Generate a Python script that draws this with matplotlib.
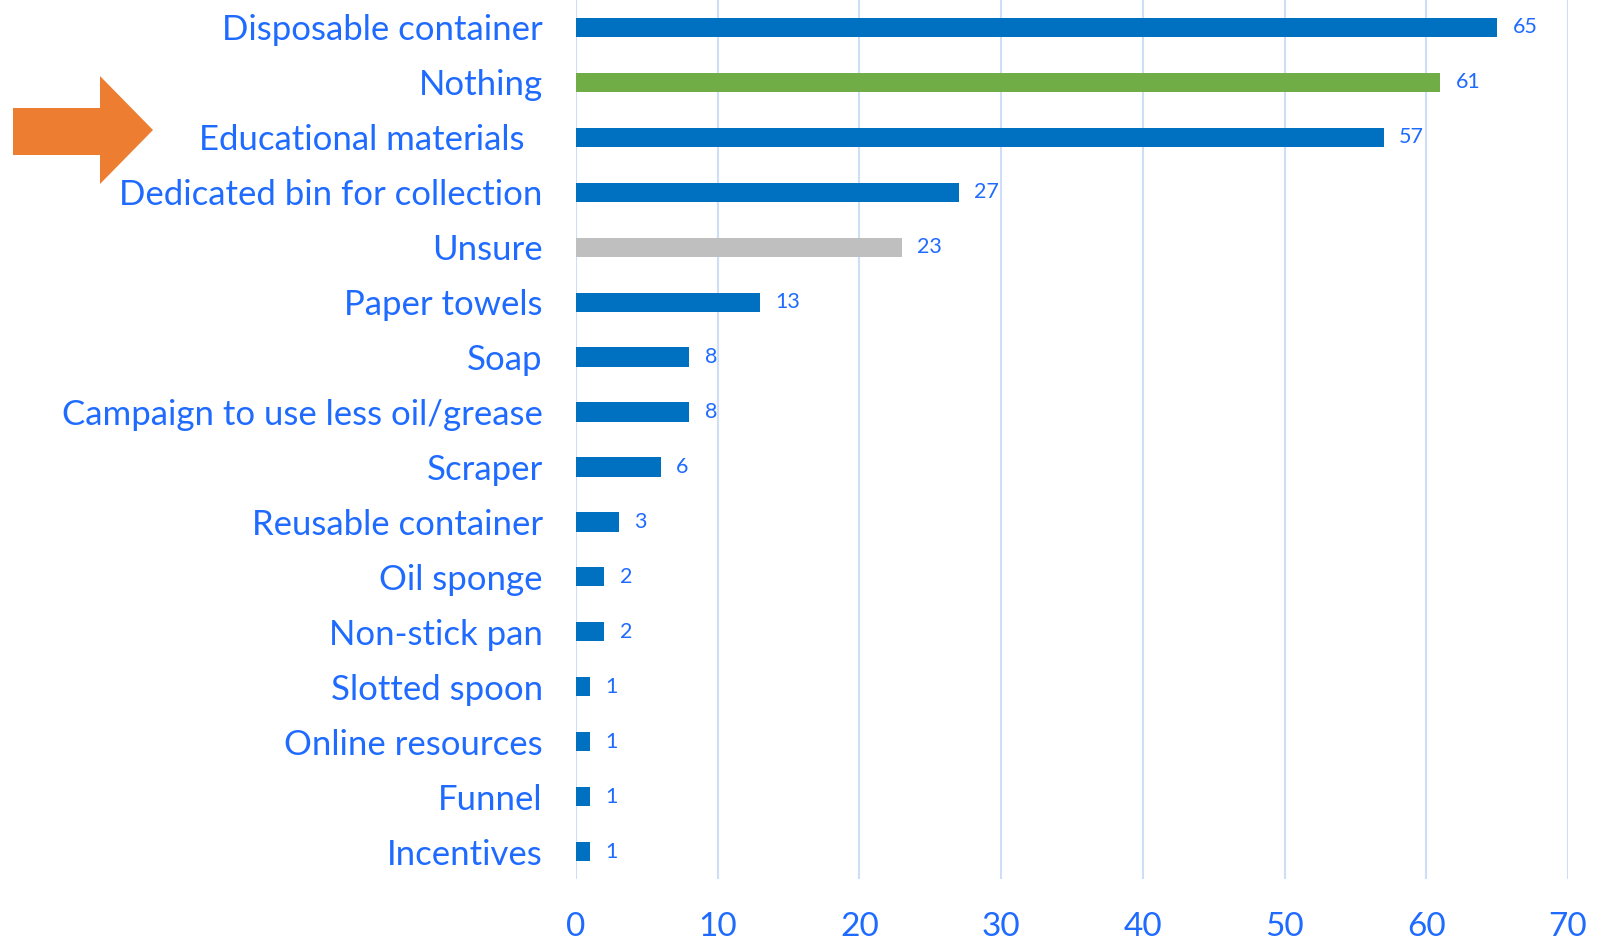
import matplotlib
matplotlib.use("Agg")
import matplotlib.pyplot as plt
from matplotlib.patches import Polygon

categories = ["Disposable container", "Nothing", "Educational materials  ",
              "Dedicated bin for collection", "Unsure", "Paper towels", "Soap",
              "Campaign to use less oil/grease", "Scraper", "Reusable container",
              "Oil sponge", "Non-stick pan", "Slotted spoon", "Online resources",
              "Funnel", "Incentives"]
values = [65, 61, 57, 27, 23, 13, 8, 8, 6, 3, 2, 2, 1, 1, 1, 1]
colors = ["#0070C0", "#70AD47", "#0070C0", "#0070C0", "#BFBFBF"] + ["#0070C0"] * 11
xticks = [0, 10, 20, 30, 40, 50, 60, 70]

txt = "#1F6BFF"
plt.rcParams['font.family'] = ['Lato', 'DejaVu Sans']

fig = plt.figure(figsize=(16.13, 9.4), dpi=100)
ax = fig.add_axes([576/1613, 1 - 879/940, (1568 - 576)/1613, 879/940])

y = list(range(len(categories)))
bars = ax.barh(y, values, height=0.35, color=colors, zorder=3)
for yi, v in zip(y, values):
    ax.annotate(str(v), (v, yi), xytext=(11, 0), textcoords="offset points",
                va="center", ha="left", fontsize=15.5, color=txt)

ax.set_ylim(15.5, -0.5)
ax.set_xlim(0, 70)
ax.set_xticks(xticks)
ax.set_yticks(y)
ax.set_yticklabels(categories, fontsize=25, color=txt)
ax.set_xticklabels([str(t) for t in xticks], fontsize=24, color=txt)
ax.tick_params(axis='y', length=0, pad=24)
ax.tick_params(axis='x', length=0, pad=24)
ax.grid(axis='x', color="#CFDEF7", linewidth=1.5, zorder=0)
for s in ax.spines.values():
    s.set_visible(False)

# orange arrow
W, H = 1613, 940
pts = [(13, 108), (100, 108), (100, 76), (153, 130), (100, 184), (100, 155), (13, 155)]
pts = [(px / W, 1 - py / H) for px, py in pts]
fig.patches.append(Polygon(pts, closed=True, transform=fig.transFigure,
                           facecolor="#ED7D31", edgecolor="none"))

fig.savefig("out.png", dpi=100)
